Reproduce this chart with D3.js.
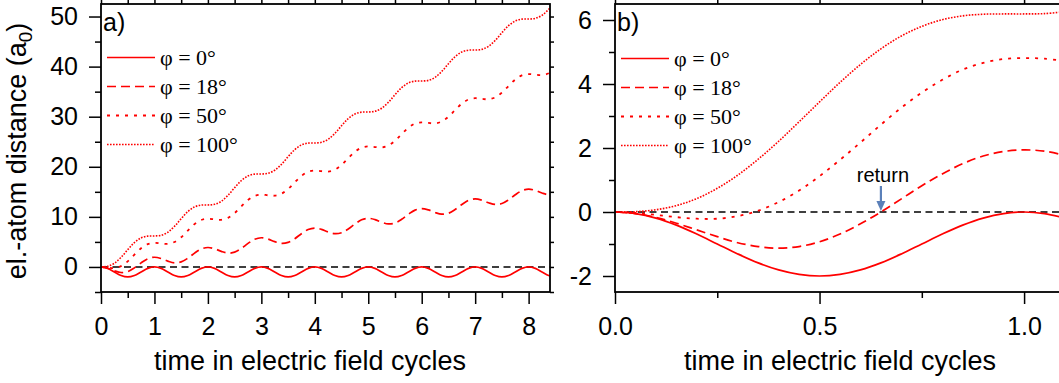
<!DOCTYPE html>
<html><head><meta charset="utf-8">
<script src="https://cdn.jsdelivr.net/npm/d3@7"></script>
<style>
html,body{margin:0;padding:0;background:#fff;}
svg{display:block;}
text{font-family:"Liberation Sans",Arial,sans-serif;fill:#000;}
.serif{font-family:"Liberation Serif","Times New Roman",serif;}
</style></head>
<body>
<svg id="chart" width="1059" height="383"></svg>
<script>
// ---------- data ----------
const seriesLabels = ["φ = 0°", "φ = 18°", "φ = 50°", "φ = 100°"];

// Panel a: time in field cycles
const tA = [0,0.125,0.25,0.375,0.5,0.625,0.75,0.875,
 1,1.125,1.25,1.375,1.5,1.625,1.75,1.875,
 2,2.125,2.25,2.375,2.5,2.625,2.75,2.875,
 3,3.125,3.25,3.375,3.5,3.625,3.75,3.875,
 4,4.125,4.25,4.375,4.5,4.625,4.75,4.875,
 5,5.125,5.25,5.375,5.5,5.625,5.75,5.875,
 6,6.125,6.25,6.375,6.5,6.625,6.75,6.875,
 7,7.125,7.25,7.375,7.5,7.625,7.75,7.875,
 8,8.125,8.25,8.375,8.5];
const phi0A = [0,-0.29,-1,-1.71,-2,-1.71,-1,-0.29,
 0,-0.29,-1,-1.71,-2,-1.71,-1,-0.29,
 0,-0.29,-1,-1.71,-2,-1.71,-1,-0.29,
 0,-0.29,-1,-1.71,-2,-1.71,-1,-0.29,
 0,-0.29,-1,-1.71,-2,-1.71,-1,-0.29,
 0,-0.29,-1,-1.71,-2,-1.71,-1,-0.29,
 0,-0.29,-1,-1.71,-2,-1.71,-1,-0.29,
 0,-0.29,-1,-1.71,-2,-1.71,-1,-0.29,
 0,-0.29,-1,-1.71,-2];
const phi18A = [0,-0.25,-0.77,-1.11,-0.93,-0.19,0.82,1.64,
 1.94,1.69,1.17,0.83,1.01,1.75,2.76,3.58,
 3.88,3.63,3.11,2.77,2.95,3.69,4.70,5.52,
 5.83,5.57,5.05,4.71,4.90,5.64,6.64,7.47,
 7.77,7.51,6.99,6.65,6.84,7.58,8.58,9.41,
 9.71,9.46,8.94,8.60,8.78,9.52,10.53,11.35,
 11.65,11.40,10.88,10.54,10.72,11.46,12.47,13.29,
 13.59,13.34,12.82,12.48,12.66,13.40,14.41,15.23,
 15.54,15.28,14.76,14.42,14.61];
const phi50A = [0,-0.13,-0.21,0.17,1.12,2.45,3.73,4.56,
 4.81,4.69,4.61,4.98,5.93,7.27,8.55,9.38,
 9.63,9.50,9.42,9.79,10.75,12.08,13.36,14.19,
 14.44,14.31,14.23,14.61,15.56,16.89,18.17,19.00,
 19.25,19.12,19.05,19.42,20.37,21.70,22.99,23.82,
 24.07,23.94,23.86,24.23,25.19,26.52,27.80,28.63,
 28.88,28.75,28.67,29.04,30.00,31.33,32.61,33.44,
 33.69,33.56,33.49,33.86,34.81,36.14,37.42,38.26,
 38.50,38.38,38.30,38.67,39.62];
const phi100A = [0,0.13,0.74,1.92,3.44,4.86,5.80,6.16,
 6.19,6.32,6.92,8.11,9.63,11.05,11.99,12.35,
 12.38,12.50,13.11,14.30,15.82,17.24,18.18,18.54,
 18.56,18.69,19.30,20.48,22.01,23.42,24.36,24.73,
 24.75,24.88,25.49,26.67,28.19,29.61,30.55,30.91,
 30.94,31.07,31.68,32.86,34.38,35.80,36.74,37.10,
 37.13,37.25,37.86,39.05,40.57,41.99,42.93,43.29,
 43.31,43.44,44.05,45.23,46.76,48.17,49.11,49.48,
 49.50,49.63,50.24,51.42,52.94];

// Panel b: first cycle, zoomed
const tB = [0,0.05,0.1,0.15,0.2,0.25,0.3,0.35,0.4,0.45,0.5,0.55,0.6,0.65,0.7,0.75,0.8,0.85,0.9,0.95,1.0,1.05,1.1];
const phi0B = [0,-0.05,-0.19,-0.41,-0.69,-1,-1.31,-1.59,-1.81,-1.95,-2,-1.95,-1.81,-1.59,-1.31,-1,-0.69,-0.41,-0.19,-0.05,0,-0.05,-0.19];
const phi18B = [0,-0.05,-0.17,-0.35,-0.56,-0.77,-0.96,-1.08,-1.13,-1.08,-0.93,-0.69,-0.37,0,0.41,0.82,1.19,1.51,1.75,1.89,1.94,1.90,1.77];
const phi50B = [0,-0.03,-0.09,-0.16,-0.21,-0.21,-0.13,0.04,0.31,0.67,1.12,1.63,2.17,2.73,3.26,3.73,4.13,4.45,4.66,4.78,4.81,4.79,4.72];
const phi100B = [0,0.01,0.07,0.20,0.42,0.74,1.15,1.65,2.21,2.82,3.44,4.05,4.61,5.10,5.50,5.80,6.01,6.13,6.18,6.19,6.19,6.20,6.26];

// ticks
const xMajorA = [0,1,2,3,4,5,6,7,8];
const xMinorA = [0.5,1.5,2.5,3.5,4.5,5.5,6.5,7.5];
const yMajorA = [0,10,20,30,40,50];
const yMinorA = [-5,5,15,25,35,45];
const xMajorB = [0,0.5,1.0];
const xMinorB = [0.25,0.75];
const yMajorB = [-2,0,2,4,6];
const yMinorB = [-1,1,3,5];
const returnTime = 0.65;

// ---------- drawing ----------
const svg = d3.select("#chart");
const RED = "#ff0000";
const styles = [
  {dash: null, w: 1.7},
  {dash: "9,5", w: 1.7},
  {dash: "3,6", w: 1.8},
  {dash: "1.6,1.4", w: 1.6}
];

function panel(opt) {
  const x = d3.scaleLinear().domain(opt.xDomain).range(opt.xRange);
  const y = d3.scaleLinear().domain(opt.yDomain).range([292, 4]);
  const g = svg.append("g");
  const clipId = "clip" + opt.id;
  svg.append("clipPath").attr("id", clipId).append("rect")
    .attr("x", opt.xRange[0]).attr("y", 4)
    .attr("width", opt.xRange[1] - opt.xRange[0]).attr("height", 288);

  const fmtX = opt.fmtX, fmtY = d => String(d);
  g.append("g").attr("transform", "translate(0,292)")
    .call(d3.axisBottom(x).tickValues(opt.xMajor).tickSize(12).tickPadding(13).tickFormat(fmtX));
  g.append("g").attr("transform", "translate(0,292)")
    .call(d3.axisBottom(x).tickValues(opt.xMinor).tickSize(6).tickFormat(""));
  g.append("g").attr("transform", "translate(0,4)")
    .call(d3.axisTop(x).tickValues(opt.xMajor.concat(opt.xMinor)).tickSize(4).tickFormat(""));
  const left = opt.xRange[0];
  g.append("g").attr("transform", `translate(${left},0)`)
    .call(d3.axisLeft(y).tickValues(opt.yMajor).tickSize(12).tickPadding(11).tickFormat(fmtY));
  g.append("g").attr("transform", `translate(${left},0)`)
    .call(d3.axisLeft(y).tickValues(opt.yMinor).tickSize(6).tickFormat(""));
  if (opt.rightTicks) {
    g.append("g").attr("transform", `translate(${opt.xRange[1]},0)`)
      .call(d3.axisRight(y).tickValues(opt.yMajor.concat(opt.yMinor)).tickSize(4).tickFormat(""));
  }
  g.selectAll(".domain").remove();
  g.selectAll(".tick line").attr("stroke", "#000").attr("stroke-width", 1.5);
  g.selectAll(".tick text").attr("font-size", 25).attr("font-family", "Liberation Sans, Arial, sans-serif").attr("fill", "#000");

  const plot = svg.append("g").attr("clip-path", `url(#${clipId})`);
  plot.append("line")
    .attr("x1", x(opt.xDomain[0])).attr("x2", x(opt.xDomain[1]))
    .attr("y1", y(0)).attr("y2", y(0))
    .attr("stroke", "#000").attr("stroke-width", 1.6).attr("stroke-dasharray", "7,4.5");

  const line = d3.line().curve(d3.curveCatmullRom.alpha(0.5))
    .x((d, i) => x(opt.t[i])).y(d => y(d));
  opt.series.forEach((s, i) => {
    plot.append("path").datum(s)
      .attr("d", line).attr("fill", "none").attr("stroke", RED)
      .attr("stroke-width", styles[i].w)
      .attr("stroke-dasharray", styles[i].dash);
  });

  svg.append("rect").attr("x", opt.xRange[0]).attr("y", 4)
    .attr("width", opt.xRange[1] - opt.xRange[0]).attr("height", 288)
    .attr("fill", "none").attr("stroke", "#000").attr("stroke-width", 1.8);

  svg.append("text").attr("x", opt.xRange[0] + 2).attr("y", 31)
    .attr("font-size", 25).text(opt.letter);

  seriesLabels.forEach((lab, i) => {
    const ly = opt.legY + i * 29;
    svg.append("line").attr("x1", opt.xRange[0] + 6).attr("x2", opt.xRange[0] + 54)
      .attr("y1", ly).attr("y2", ly)
      .attr("stroke", RED).attr("stroke-width", styles[i].w)
      .attr("stroke-dasharray", styles[i].dash);
    svg.append("text").attr("class", "serif")
      .attr("x", opt.xRange[0] + 59).attr("y", ly + 7.5)
      .attr("font-size", 22).text(lab);
  });

  svg.append("text").attr("x", opt.titleX).attr("y", 370)
    .attr("text-anchor", "middle").attr("font-size", 27)
    .text("time in electric field cycles");
  return {x, y};
}

panel({id: "a", letter: "a)", xDomain: [0, 8.4], xRange: [101, 550],
  yDomain: [-5, 52.5], xMajor: xMajorA, xMinor: xMinorA, yMajor: yMajorA, yMinor: yMinorA,
  fmtX: d => String(d), t: tA, series: [phi0A, phi18A, phi50A, phi100A],
  legY: 57.5, titleX: 310, rightTicks: true});

const pb = panel({id: "b", letter: "b)", xDomain: [0, 1.1], xRange: [615, 1065],
  yDomain: [-2.5, 6.5], xMajor: xMajorB, xMinor: xMinorB, yMajor: yMajorB, yMinor: yMinorB,
  fmtX: d3.format(".1f"), t: tB, series: [phi0B, phi18B, phi50B, phi100B],
  legY: 58.5, titleX: 840, rightTicks: false});

const yt = svg.append("text").attr("transform", "translate(26,151) rotate(-90)")
  .attr("text-anchor", "middle").attr("font-size", 27);
yt.append("tspan").text("el.-atom distance (a");
yt.append("tspan").attr("font-size", 19).attr("dy", 6).text("0");
yt.append("tspan").attr("dy", -6).text(")");

const ax = pb.x(returnTime);
const ay = pb.y(0);
svg.append("text").attr("x", ax + 2).attr("y", 181.5).attr("text-anchor", "middle")
  .attr("font-size", 20).text("return");
svg.append("line").attr("x1", ax).attr("x2", ax).attr("y1", 186).attr("y2", ay - 9)
  .attr("stroke", "#5b80b9").attr("stroke-width", 2.2);
svg.append("path")
  .attr("d", `M${ax - 4.5},${ay - 11} L${ax + 4.5},${ay - 11} L${ax},${ay - 1} Z`)
  .attr("fill", "#5b80b9");
</script>
</body></html>
